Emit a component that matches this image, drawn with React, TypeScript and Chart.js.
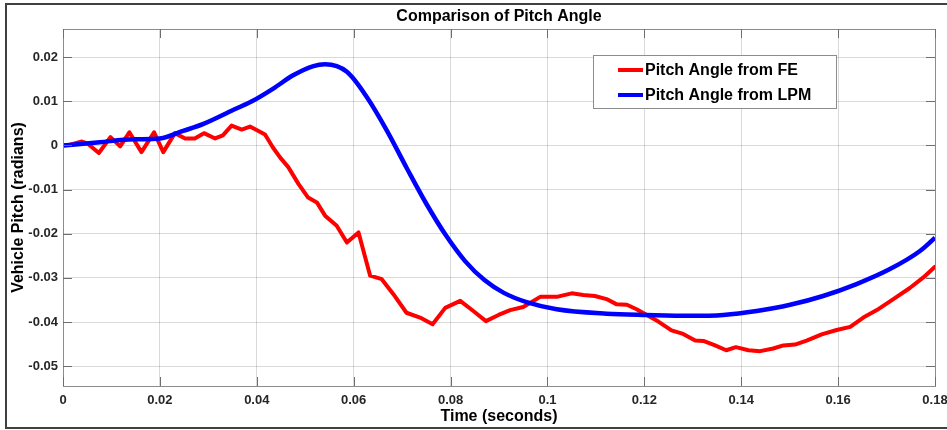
import React, { useEffect, useRef } from 'react';
import { Chart, registerables } from 'chart.js';
Chart.register(...registerables);

const chartTitle = 'Comparison of Pitch Angle';
const xLabel = 'Time (seconds)';
const yLabel = 'Vehicle Pitch (radians)';
const seriesLabels = ['Pitch Angle from FE', 'Pitch Angle from LPM'];
const seriesColors = ['#ff0000', '#0000ff'];

const xTicks = [0, 0.02, 0.04, 0.06, 0.08, 0.1, 0.12, 0.14, 0.16, 0.18];
const yTicks = [-0.05, -0.04, -0.03, -0.02, -0.01, 0, 0.01, 0.02];

const feTime = [0, 0.0015, 0.0039, 0.005, 0.0074, 0.0098, 0.0118, 0.0137, 0.0162, 0.0188, 0.0207, 0.0231, 0.0252, 0.0272, 0.0291, 0.0314, 0.033, 0.0348, 0.0369, 0.0386, 0.0417, 0.0433, 0.0448, 0.0465, 0.0486, 0.0506, 0.0524, 0.0541, 0.0565, 0.0586, 0.061, 0.0634, 0.0658, 0.0682, 0.0709, 0.0737, 0.0763, 0.0789, 0.082, 0.0847, 0.0873, 0.0899, 0.0923, 0.095, 0.0985, 0.1019, 0.105, 0.1074, 0.1098, 0.1122, 0.1143, 0.1164, 0.1184, 0.1205, 0.1229, 0.1256, 0.128, 0.1305, 0.1322, 0.1346, 0.1369, 0.1389, 0.1415, 0.1439, 0.1466, 0.1487, 0.1511, 0.1535, 0.1566, 0.1597, 0.1625, 0.1652, 0.168, 0.1714, 0.1748, 0.1776, 0.18];
const feValues = [0, 0.0002, 0.0009, 0.0005, -0.0017, 0.0019, -0.0002, 0.003, -0.0015, 0.003, -0.0015, 0.0028, 0.0016, 0.0016, 0.0028, 0.0016, 0.0023, 0.0045, 0.0036, 0.0043, 0.0025, -0.0004, -0.0027, -0.0049, -0.0087, -0.0118, -0.0129, -0.0159, -0.0182, -0.022, -0.0197, -0.0295, -0.0303, -0.0337, -0.0379, -0.039, -0.0405, -0.0368, -0.0352, -0.0375, -0.0398, -0.0384, -0.0373, -0.0366, -0.0343, -0.0343, -0.0335, -0.0339, -0.0341, -0.0348, -0.036, -0.0361, -0.0371, -0.0384, -0.0399, -0.0419, -0.0427, -0.0442, -0.0443, -0.0453, -0.0464, -0.0457, -0.0464, -0.0466, -0.046, -0.0453, -0.0451, -0.0442, -0.0428, -0.0418, -0.0411, -0.039, -0.0373, -0.0348, -0.0323, -0.0299, -0.0275];

const lpmTime = [0, 0.0076, 0.0145, 0.02, 0.0248, 0.029, 0.0352, 0.0393, 0.0434, 0.0475, 0.0517, 0.0541, 0.0586, 0.0627, 0.0668, 0.071, 0.075, 0.079, 0.083, 0.087, 0.091, 0.0957, 0.1019, 0.1122, 0.1205, 0.1294, 0.1363, 0.1432, 0.1501, 0.1569, 0.1638, 0.1707, 0.1769, 0.18];
const lpmValues = [0, 0.00075, 0.0014, 0.0016, 0.0033, 0.0049, 0.0081, 0.0102, 0.0129, 0.0159, 0.018, 0.0184, 0.0167, 0.011, 0.0035, -0.0052, -0.0132, -0.0203, -0.0262, -0.0305, -0.0334, -0.0355, -0.0371, -0.0381, -0.0384, -0.0386, -0.0384, -0.0375, -0.0361, -0.0341, -0.0314, -0.028, -0.0239, -0.0209];

const FONT = "'Liberation Sans', Arial, Helvetica, sans-serif";

const fmt = (v: number) => (Math.abs(v) < 1e-12 ? '0' : String(+v.toFixed(2)));

const decor = {
  id: 'decor',
  afterDraw(chart: any) {
    const { ctx, chartArea: a, scales } = chart;
    ctx.save();
    const line = (x1: number, y1: number, x2: number, y2: number) => {
      ctx.beginPath();
      ctx.moveTo(x1, y1);
      ctx.lineTo(x2, y2);
      ctx.stroke();
    };
    // axes box
    ctx.strokeStyle = '#8c8c8c';
    ctx.lineWidth = 1;
    ctx.strokeRect(Math.round(a.left) + 0.5, Math.round(a.top) + 0.5, Math.round(a.right - a.left), Math.round(a.bottom - a.top));
    // inward ticks
    ctx.strokeStyle = '#6e6e6e';
    for (const t of xTicks) {
      const x = Math.round(scales.x.getPixelForValue(t)) + 0.5;
      line(x, a.bottom, x, a.bottom - 9);
      line(x, a.top, x, a.top + 9);
    }
    for (const t of yTicks) {
      const y = Math.round(scales.y.getPixelForValue(t)) + 0.5;
      line(a.left, y, a.left + 9, y);
      line(a.right, y, a.right - 9, y);
    }
    // title and axis labels
    const cx = (a.left + a.right) / 2;
    ctx.fillStyle = '#000';
    ctx.font = `bold 16px ${FONT}`;
    ctx.textAlign = 'center';
    ctx.textBaseline = 'middle';
    ctx.fillText(chartTitle, cx, 17);
    ctx.fillText(xLabel, cx, 417);
    ctx.save();
    ctx.translate(19, (a.top + a.bottom) / 2);
    ctx.rotate(-Math.PI / 2);
    ctx.fillText(yLabel, 0, 0);
    ctx.restore();
    // legend
    const lx = 593.5, ly = 55.5, lw = 243, lh = 53;
    ctx.fillStyle = '#fff';
    ctx.fillRect(lx, ly, lw, lh);
    ctx.strokeStyle = '#8c8c8c';
    ctx.lineWidth = 1;
    ctx.strokeRect(lx, ly, lw, lh);
    chart.data.datasets.forEach((ds: any, i: number) => {
      const y = 70 + i * 25;
      ctx.strokeStyle = ds.borderColor;
      ctx.lineWidth = 4;
      line(618, y, 643, y);
      ctx.fillStyle = '#000';
      ctx.textAlign = 'left';
      ctx.font = `bold 16px ${FONT}`;
      ctx.fillText(ds.label, 645, y + 1);
    });
    // outer frame
    ctx.strokeStyle = '#404040';
    ctx.lineWidth = 2;
    ctx.strokeRect(6, 4, 980, 424);
    ctx.restore();
  },
};

export default function App() {
  const ref = useRef<HTMLCanvasElement>(null);
  useEffect(() => {
    const chart = new Chart(ref.current!, {
      type: 'line',
      data: {
        datasets: [
          {
            label: seriesLabels[0],
            data: feTime.map((t, i) => ({ x: t, y: feValues[i] })),
            borderColor: seriesColors[0],
            backgroundColor: seriesColors[0],
            borderWidth: 4,
            pointRadius: 0,
            tension: 0,
            borderJoinStyle: 'round',
            borderCapStyle: 'round',
            order: 1,
          },
          {
            label: seriesLabels[1],
            data: lpmTime.map((t, i) => ({ x: t, y: lpmValues[i] })),
            borderColor: seriesColors[1],
            backgroundColor: seriesColors[1],
            borderWidth: 4.5,
            pointRadius: 0,
            cubicInterpolationMode: 'monotone',
            borderJoinStyle: 'round',
            order: 0,
          },
        ],
      },
      options: {
        animation: false,
        responsive: false,
        maintainAspectRatio: false,
        layout: { padding: { top: 29, left: 0, right: 12, bottom: 0 } },
        plugins: { legend: { display: false }, title: { display: false }, tooltip: { enabled: false } },
        scales: {
          x: {
            type: 'linear',
            min: 0,
            max: 0.18,
            afterBuildTicks: (s: any) => { s.ticks = xTicks.map((v) => ({ value: v })); },
            afterFit: (s: any) => { s.height = 44; s.paddingLeft = 0; s.paddingRight = 0; },
            ticks: {
              callback: (v: any) => fmt(Number(v)),
              font: { family: FONT, size: 13, weight: 'bold' },
              color: '#262626',
              padding: 7,
              maxRotation: 0,
              autoSkip: false,
            },
            grid: { color: 'rgba(0,0,0,0.15)', lineWidth: 1, drawTicks: false },
            border: { display: false },
          },
          y: {
            type: 'linear',
            min: -0.0545,
            max: 0.0264,
            afterBuildTicks: (s: any) => { s.ticks = yTicks.map((v) => ({ value: v })); },
            afterFit: (s: any) => { s.width = 63; s.paddingTop = 0; s.paddingBottom = 0; },
            ticks: {
              callback: (v: any) => fmt(Number(v)),
              font: { family: FONT, size: 13, weight: 'bold' },
              color: '#262626',
              padding: 5,
              autoSkip: false,
            },
            grid: { color: 'rgba(0,0,0,0.15)', lineWidth: 1, drawTicks: false },
            border: { display: false },
          },
        },
      },
      plugins: [decor],
    } as any);
    return () => chart.destroy();
  }, []);
  return (
    <div style={{ position: 'fixed', left: 0, top: 0, width: 947, height: 430, background: '#fff' }}>
      <canvas ref={ref} width={947} height={430} style={{ display: 'block', width: 947, height: 430 }} />
    </div>
  );
}
